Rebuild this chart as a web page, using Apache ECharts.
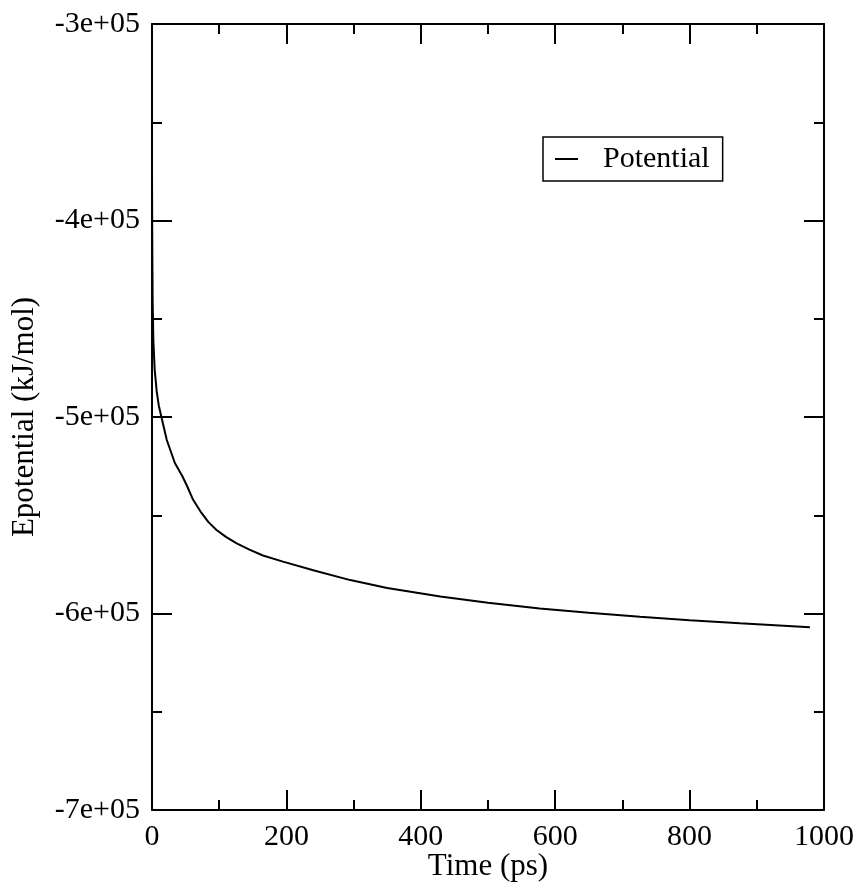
<!DOCTYPE html>
<html>
<head>
<meta charset="utf-8">
<script src="https://cdn.jsdelivr.net/npm/echarts@6/dist/echarts.min.js"></script>
<style>
  html, body { margin: 0; padding: 0; background: #fff; }
  #chart { width: 860px; height: 884px; }
</style>
</head>
<body>
<div id="chart"></div>
<script>
// time (ps) and potential energy (kJ/mol)
const times = [0, 0.5, 1, 2, 4, 7, 10, 14, 22, 34, 45, 52, 61, 72, 84, 96, 110, 126, 145, 165, 195, 240, 295, 350, 429, 500, 577, 650, 726, 800, 875, 940, 979];
const potential = [-376000, -418000, -442000, -461000, -476000, -487000, -494000, -500000, -511700, -523400, -530000, -535000, -542000, -548000, -553500, -557500, -561000, -564300, -567500, -570500, -573600, -578000, -583000, -587000, -591400, -594500, -597400, -599600, -601600, -603400, -605000, -606200, -607000];
const seriesName = 'Potential';

const font = 'Liberation Serif';

// -3e+05 style labels
const expLabel = v => {
    if (v === 0) return '0';
    let s = v.toExponential();
    let [m, e] = s.split('e');
    let sign = e[0];
    let digits = e.slice(1).padStart(2, '0');
    return m + 'e' + sign + digits;
};

const tickCommon = {
    axisLine: { show: true, onZero: false, lineStyle: { color: '#000', width: 2 } },
    axisTick: { show: true, inside: true, length: 20, lineStyle: { color: '#000', width: 2 } },
    minorTick: { show: true, splitNumber: 2, length: 10, lineStyle: { color: '#000', width: 2 } },
    splitLine: { show: false }
};

let myChart = echarts.init(document.getElementById('chart'));
myChart.setOption({
    backgroundColor: '#fff',
    animation: false,
    grid: { left: 152, right: 36, top: 24, bottom: 74, containLabel: false, outerBoundsMode: 'none' },
    legend: {
        data: [{ name: seriesName, icon: 'rect' }],
        left: 543, top: 137,
        itemWidth: 23, itemHeight: 2,
        padding: [7, 13, 7, 12],
        borderColor: '#000', borderWidth: 1.5,
        textStyle: { fontFamily: font, fontSize: 30, color: '#000', padding: [0, 0, 0, 20] }
    },
    xAxis: [{
        type: 'value', min: 0, max: 1000, interval: 200,
        name: 'Time (ps)', nameLocation: 'middle', nameGap: 41, nameMoveOverlap: false,
        nameTextStyle: { fontFamily: font, fontSize: 31, color: '#000' },
        axisLabel: { fontFamily: font, fontSize: 30, color: '#000', margin: 12, formatter: v => String(v) },
        ...tickCommon
    }, {
        type: 'value', min: 0, max: 1000, interval: 200, position: 'top',
        axisLabel: { show: false },
        ...tickCommon
    }],
    yAxis: [{
        type: 'value', min: -700000, max: -300000, interval: 100000, position: 'left',
        name: 'Epotential (kJ/mol)', nameLocation: 'middle', nameGap: 112, nameMoveOverlap: false,
        nameTextStyle: { fontFamily: font, fontSize: 31, color: '#000' },
        axisLabel: { fontFamily: font, fontSize: 30, color: '#000', margin: 12, formatter: expLabel },
        ...tickCommon
    }, {
        type: 'value', min: -700000, max: -300000, interval: 100000, position: 'right',
        axisLabel: { show: false },
        ...tickCommon
    }],
    series: [{
        name: seriesName,
        type: 'line',
        xAxisIndex: 0, yAxisIndex: 0,
        data: times.map((t, i) => [t, potential[i]]),
        showSymbol: false,
        color: '#000',
        lineStyle: { color: '#000', width: 2 }
    }]
});
window.addEventListener('resize', () => {
    myChart.resize();
});
</script>
</body>
</html>
